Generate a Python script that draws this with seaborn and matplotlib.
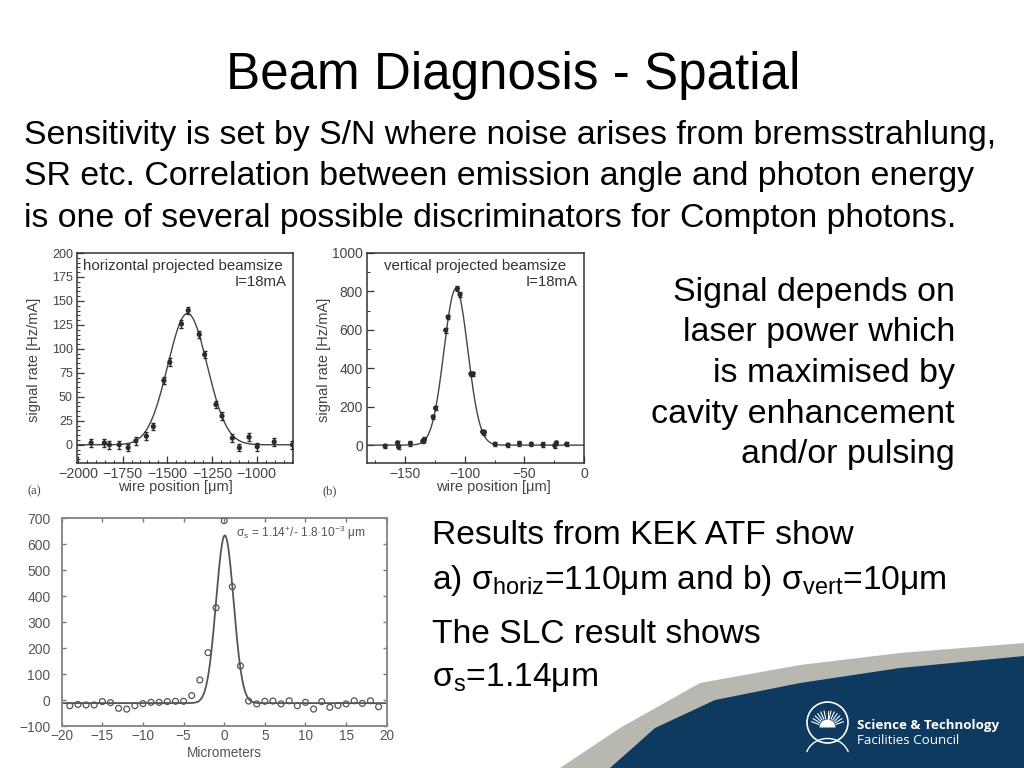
import numpy as np
import pandas as pd
import matplotlib
matplotlib.use("Agg")
import matplotlib.pyplot as plt
from matplotlib.patches import Polygon, Circle, Wedge
from matplotlib.ticker import MultipleLocator
import seaborn as sns

# ---------------- data ----------------
# (a) horizontal projected beamsize
a_x = [-1926, -1852, -1824, -1769, -1719, -1676, -1617, -1578, -1519, -1486, -1421,
       -1383, -1321, -1291, -1228, -1194, -1136, -1097, -1043, -997, -902, -800]
a_y = [2, 2, 0, 0, -3, 4, 9, 19, 67, 86, 126, 140, 115, 94, 42, 30, 7, -3, 8, -2, 3, 0]
a_err = [4, 4, 4, 4, 4, 4, 4, 4, 4, 4, 4, 4, 4, 4, 4, 4, 4, 4, 4, 4, 4, 4]
a_fit_amp, a_fit_mu, a_fit_sigma = 137, -1387, 110

# (b) vertical projected beamsize
b_x = [-166.8, -156.4, -155.5, -145.6, -135.2, -133.8, -126.5, -124.5, -116, -114,
       -106.2, -104, -94.9, -93, -85, -83.6, -74.6, -63.9, -54.1, -44.2, -34.3,
       -24.5, -23.1, -14.6]
b_y = [-5, 12, -9, 9, 21, 29, 147, 193, 598, 667, 814, 784, 371, 371, 69, 66, 5, 0,
       9, 5, 3, -3, 12, 5]
b_err = [12, 12, 12, 12, 12, 12, 12, 12, 12, 12, 12, 12, 12, 12, 12, 12, 12, 12,
         12, 12, 12, 12, 12, 12]
b_fit_amp, b_fit_mu, b_fit_sigma = 815, -107.4, 10.0

# (c) SLC result
c_x = list(range(-19, 20))
c_y = [-22, -17, -19, -19, -6, -10, -32, -35, -22, -14, -9, -9, -6, -5, -5, 17, 77,
       182, 355, 690, 436, 131, -4, -15, -5, -4, -15, -3, -22, -9, -35, -6, -28, -21,
       -15, -3, -13, -3, -26]
c_fit_amp, c_fit_mu, c_fit_sigma, c_fit_off = 645, 0.08, 1.08, -12

title = "Beam Diagnosis - Spatial"
para_lines = ["Sensitivity is set by S/N where noise arises from bremsstrahlung,",
              "SR etc. Correlation between emission angle and photon energy",
              "is one of several possible discriminators for Compton photons."]
right_lines = ["Signal depends on", "laser power which", "is maximised by",
               "cavity enhancement", "and/or pulsing"]
result_lines = ["Results from KEK ATF show",
                "a) σ$_{\\mathrm{horiz}}$=110μm and b) σ$_{\\mathrm{vert}}$=10μm",
                "The SLC result shows",
                "σ$_{\\mathrm{s}}$=1.14μm"]

# ---------------- style ----------------
sns.set_theme(style="ticks")
plt.rcParams["font.family"] = ["Liberation Sans", "DejaVu Sans"]
plt.rcParams["mathtext.fontset"] = "custom"
plt.rcParams["mathtext.rm"] = "Liberation Sans"
plt.rcParams["mathtext.it"] = "Liberation Sans:italic"
plt.rcParams["mathtext.bf"] = "Liberation Sans:bold"
plt.rcParams["mathtext.sf"] = "Liberation Sans"

W, H = 1024, 768
fig = plt.figure(figsize=(W / 100, H / 100), dpi=100)
fig.patch.set_facecolor("white")

bg = fig.add_axes([0, 0, 1, 1], zorder=0)
bg.set_xlim(0, W)
bg.set_ylim(H, 0)
bg.axis("off")


def fax(x0, y0, x1, y1):
    return fig.add_axes([x0 / W, (H - y1) / H, (x1 - x0) / W, (y1 - y0) / H], zorder=2)


def gauss(x, amp, mu, sig, off=0.0):
    return off + amp * np.exp(-0.5 * ((x - mu) / sig) ** 2)


dark = "#2b2b2b"
tickc = "#444444"

# ---------------- (a) ----------------
axa = fax(77, 253, 293, 463)
xx = np.linspace(-2005, -797, 400)
sns.lineplot(x=xx, y=gauss(xx, a_fit_amp, a_fit_mu, a_fit_sigma), ax=axa, color="#444",
             lw=1.0, zorder=2)
axa.errorbar(a_x, a_y, yerr=a_err, fmt="none", ecolor=dark, elinewidth=0.9, capsize=1.5,
             zorder=3)
sns.scatterplot(x=a_x, y=a_y, ax=axa, color=dark, s=14, edgecolor="none", zorder=4)
axa.set_xlim(-2005, -797)
axa.set_ylim(-19, 200)
axa.xaxis.set_major_locator(MultipleLocator(250))
axa.xaxis.set_minor_locator(MultipleLocator(50))
axa.yaxis.set_major_locator(MultipleLocator(25))
axa.yaxis.set_minor_locator(MultipleLocator(5))
axa.text(0.03, 0.94, "horizontal projected beamsize", transform=axa.transAxes,
         fontsize=10.8, color="#333", va="center", ha="left")
axa.text(0.97, 0.86, "I=18mA", transform=axa.transAxes, fontsize=10.8, color="#333",
         va="center", ha="right")

# ---------------- (b) ----------------
axb = fax(367, 253, 584, 463)
xb = np.linspace(-182, 0, 400)
sns.lineplot(x=xb, y=gauss(xb, b_fit_amp, b_fit_mu, b_fit_sigma), ax=axb, color="#444",
             lw=1.0, zorder=2)
axb.errorbar(b_x, b_y, yerr=b_err, fmt="none", ecolor=dark, elinewidth=0.9, capsize=1.2,
             zorder=3)
sns.scatterplot(x=b_x, y=b_y, ax=axb, color=dark, s=14, edgecolor="none", zorder=4)
axb.set_xlim(-182, 0)
axb.set_ylim(-93, 1000)
axb.xaxis.set_major_locator(MultipleLocator(50))
axb.xaxis.set_minor_locator(MultipleLocator(25))
axb.yaxis.set_major_locator(MultipleLocator(200))
axb.yaxis.set_minor_locator(MultipleLocator(100))
axb.text(0.08, 0.94, "vertical projected beamsize", transform=axb.transAxes,
         fontsize=10.8, color="#333", va="center", ha="left")
axb.text(0.97, 0.86, "I=18mA", transform=axb.transAxes, fontsize=10.8, color="#333",
         va="center", ha="right")

for ax in (axa, axb):
    ax.set_xlabel("")
    ax.set_ylabel("")
    for s in ax.spines.values():
        s.set_color("#333")
        s.set_linewidth(1.1)
    ax.tick_params(which="both", direction="in", colors="#333", labelcolor=tickc,
                   labelsize=9, pad=3)
    ax.tick_params(which="major", length=5, width=0.9)
    ax.tick_params(which="minor", length=2.5, width=0.7)
axa.tick_params(axis="x", labelsize=10.3)
axb.tick_params(axis="both", labelsize=10)

# labels of (a) and (b)
bg.text(175, 487, "wire position [μm]", fontsize=10.5, color=tickc, ha="center", va="center")
bg.text(493, 487, "wire position [μm]", fontsize=10.5, color=tickc, ha="center", va="center")
bg.text(34, 360, "signal rate [Hz/mA]", fontsize=10.5, color=tickc, ha="center",
        va="center", rotation=90)
bg.text(324, 360, "signal rate [Hz/mA]", fontsize=10.5, color=tickc, ha="center",
        va="center", rotation=90)
bg.text(34, 491, "(a)", fontsize=9, color=tickc, ha="center", va="center",
        family=["Liberation Serif", "DejaVu Serif"])
bg.text(330, 491, "(b)", fontsize=9, color=tickc, ha="center", va="center",
        family=["Liberation Serif", "DejaVu Serif"])

# ---------------- (c) ----------------
axc = fax(61.7, 518, 386.7, 726)
xc = np.linspace(-20, 20, 600)
sns.lineplot(x=xc, y=gauss(xc, c_fit_amp, c_fit_mu, c_fit_sigma, c_fit_off), ax=axc,
             color="#555", lw=1.3, zorder=2)
sns.scatterplot(x=c_x, y=c_y, ax=axc, marker="o", s=18, facecolor="none",
                edgecolor="#555", linewidth=0.9, zorder=3)
axc.set_xlim(-20, 20)
axc.set_ylim(-100, 700)
axc.xaxis.set_major_locator(MultipleLocator(5))
axc.yaxis.set_major_locator(MultipleLocator(100))
axc.set_xlabel("")
axc.set_ylabel("")
for s in axc.spines.values():
    s.set_color("#8a8a8a")
    s.set_linewidth(1.4)
axc.tick_params(which="both", direction="in", colors="#777", labelcolor="#555",
                labelsize=10, length=3, width=1, top=True, right=True)
axc.tick_params(axis="y", pad=8)
axc.tick_params(axis="x", pad=2.5, labelsize=9.8)
axc.text(0.535, 0.93, "σ$_{\\mathrm{s}}$ = 1.14$^{+}$/- 1.8·10$^{-3}$ μm",
         transform=axc.transAxes, fontsize=8.6, color="#555", ha="left", va="center")
bg.text(224, 753, "Micrometers", fontsize=9.8, color="#555", ha="center", va="center")

# ---------------- slide text ----------------
bg.text(513, 89, title, fontsize=36.8, ha="center", va="baseline", color="black")
for i, t in enumerate(para_lines):
    bg.text(24, 144 + 41.5 * i, t, fontsize=24.4, ha="left", va="baseline", color="black")
for i, t in enumerate(right_lines):
    bg.text(955, 301 + 40.5 * i, t, fontsize=24.5, ha="right", va="baseline", color="black")
for t, yb in zip(result_lines, [544, 589, 643, 686]):
    bg.text(432, yb, t, fontsize=24.2, ha="left", va="baseline", color="black")

# ---------------- footer swoosh & logo ----------------
gray_top = [(560, 768), (620, 728), (700, 683), (800, 665), (900, 653), (1024, 643)]
navy_top = [(610, 768), (655, 728), (715, 700), (800, 683), (900, 668), (1024, 656)]
bg.add_patch(Polygon(gray_top + [(1024, 768)], closed=True, fc="#b9b8b0", ec="none", zorder=1))
bg.add_patch(Polygon(navy_top + [(1024, 768)], closed=True, fc="#0e3a60", ec="none", zorder=2))

cx, cy, r = 827.5, 722.5, 20.5
bg.add_patch(Circle((cx, cy), r, fc="none", ec="white", lw=1.2, zorder=3))
bg.add_patch(Wedge((cx, cy + 5), 8, 180, 360, fc="white", ec="none", zorder=3))
for ang in np.linspace(200, 340, 13):
    rad = np.deg2rad(ang)
    bg.plot([cx + 9 * np.cos(rad), cx + 17 * np.cos(rad)],
            [cy + 5 + 9 * np.sin(rad), cy + 5 + 17 * np.sin(rad)],
            color="white", lw=0.8, zorder=3)
arc_t = np.linspace(np.deg2rad(20), np.deg2rad(160), 50)
bg.plot(cx + 22 * np.cos(arc_t), cy + 28 - 20 * np.sin(arc_t) + 8, color="white", lw=1.0,
        zorder=3)
bg.text(857, 729, "Science & Technology", fontsize=9.6, fontweight="bold", color="white",
        ha="left", va="baseline", family=["Open Sans", "DejaVu Sans"], zorder=4)
bg.text(857, 744, "Facilities Council", fontsize=9.6, color="white", ha="left",
        va="baseline", family=["Open Sans", "DejaVu Sans"], zorder=4)

fig.savefig("out.png", dpi=100, facecolor="white")
